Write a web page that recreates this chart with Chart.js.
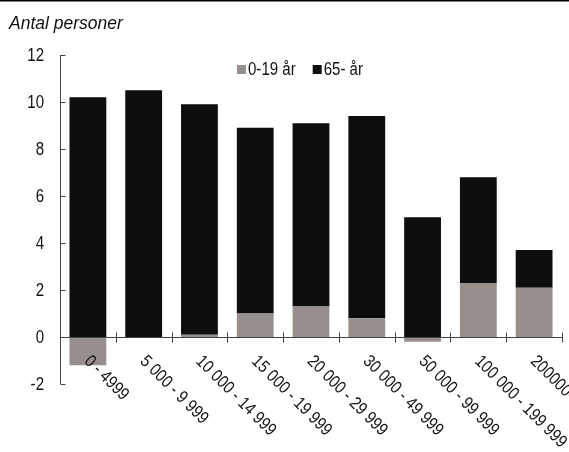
<!DOCTYPE html>
<html><head><meta charset="utf-8">
<script src="https://cdn.jsdelivr.net/npm/chart.js@4/dist/chart.umd.min.js"></script>
<style>html,body{margin:0;padding:0;background:#fff}#wrap{width:569px;height:452px}</style>
</head><body><div id="wrap"><canvas id="c"></canvas></div>
<script>
const categories = ["0 - 4999","5 000 - 9 999","10 000 - 14 999","15 000 - 19 999","20 000 - 29 999","30 000 - 49 999","50 000 - 99 999","100 000 - 199 999","200000-"];
const young = [-1.2, 0, 0.1, 1.0, 1.3, 0.8, -0.2, 2.3, 2.1];
const oldTotal = [10.2, 10.5, 9.9, 8.9, 9.1, 9.4, 5.1, 6.8, 3.7];
const old = oldTotal.map((t, i) => +(young[i] > 0 ? t - young[i] : t).toFixed(2));
const yTicks = [-2, 0, 2, 4, 6, 8, 10, 12];
const seriesNames = ['0-19 år', '65- år'];
const seriesColors = ['#968f8b', '#0e0e0e'];
const FONT = "17.5px 'Liberation Sans', Arial, sans-serif";
const SX = 0.86; // condensed look

function condText(ctx, txt, x, y) {
  ctx.save();
  ctx.translate(x, y);
  ctx.scale(SX, 1);
  ctx.fillText(txt, 0, 0);
  ctx.restore();
}

const deco = {
  id: 'deco',
  afterDraw(chart) {
    const ctx = chart.ctx, x = chart.scales.x, y = chart.scales.y;
    const ca = chart.chartArea;
    ctx.save();
    ctx.fillStyle = '#000';
    ctx.fillRect(0, 0, chart.width, 1.5);
    ctx.fillStyle = '#111';
    ctx.font = "italic 17.5px 'Liberation Sans', Arial, sans-serif";
    ctx.textAlign = 'left'; ctx.textBaseline = 'alphabetic';
    ctx.fillText('Antal personer', 9, 29);
    ctx.strokeStyle = '#444';
    ctx.lineWidth = 1;
    const ax = Math.round(ca.left) + 0.5;
    ctx.beginPath(); ctx.moveTo(ax, y.getPixelForValue(12)); ctx.lineTo(ax, y.getPixelForValue(-2)); ctx.stroke();
    ctx.font = FONT;
    ctx.textBaseline = 'middle';
    yTicks.forEach(v => {
      const py = Math.round(y.getPixelForValue(v)) + 0.5;
      ctx.beginPath(); ctx.moveTo(ax, py); ctx.lineTo(ax + 5, py); ctx.stroke();
      const t = String(v);
      const w = ctx.measureText(t).width * SX;
      condText(ctx, t, 44 - w, py + 1);
    });
    const y0 = Math.round(y.getPixelForValue(0)) + 0.5;
    ctx.beginPath(); ctx.moveTo(ca.left, y0); ctx.lineTo(ca.right, y0); ctx.stroke();
    const step = x.getPixelForValue(1) - x.getPixelForValue(0);
    for (let i = 1; i <= categories.length; i++) {
      const px = Math.round(x.getPixelForValue(i) - step / 2) + 0.5;
      ctx.beginPath(); ctx.moveTo(px, y0 - 5); ctx.lineTo(px, y0 + 5); ctx.stroke();
    }
    ctx.textAlign = 'left';
    categories.forEach((c, i) => {
      const px = x.getPixelForValue(i);
      ctx.save();
      ctx.translate(px - 1, y0 + 21);
      ctx.rotate(Math.PI / 4);
      ctx.scale(SX, 1);
      ctx.fillText(c, 0, 0);
      ctx.restore();
    });
    let lx = 237;
    seriesNames.forEach((n, i) => {
      ctx.fillStyle = seriesColors[i];
      ctx.fillRect(lx, 65, 9, 9);
      ctx.fillStyle = '#111';
      condText(ctx, n, lx + 11, 70);
      lx += 11 + ctx.measureText(n).width * SX + 17;
    });
    ctx.restore();
  }
};

new Chart(document.getElementById('c'), {
  type: 'bar',
  data: {
    labels: categories,
    datasets: seriesNames.map((n, i) => ({
      label: n, data: i === 0 ? young : old, backgroundColor: seriesColors[i],
      borderWidth: 0, barPercentage: 0.66, categoryPercentage: 1
    }))
  },
  options: {
    responsive: true, maintainAspectRatio: false, animation: false,
    layout: { padding: { left: 60, right: 7, top: 55, bottom: 68 } },
    plugins: { legend: { display: false }, title: { display: false }, tooltip: { enabled: false } },
    scales: {
      x: { stacked: true, display: false },
      y: { stacked: true, min: -2, max: 12, display: false }
    }
  },
  plugins: [deco]
});
</script></body></html>
